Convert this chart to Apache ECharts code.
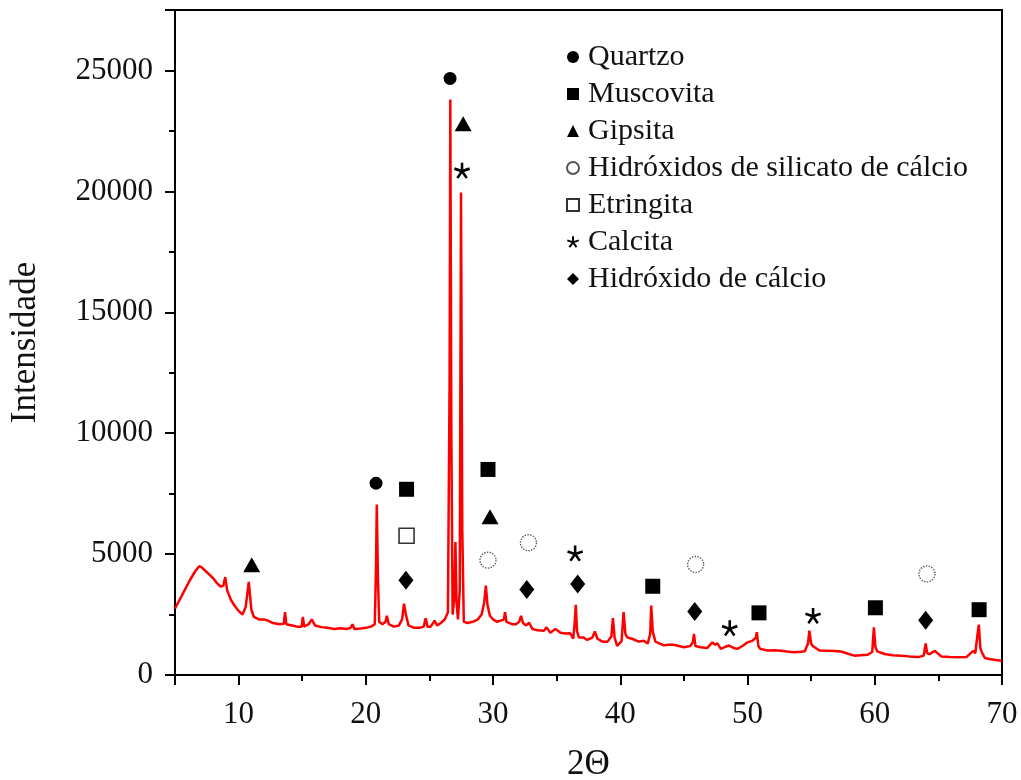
<!DOCTYPE html>
<html><head><meta charset="utf-8">
<script src="https://cdn.jsdelivr.net/npm/echarts@6/dist/echarts.min.js"></script>
<style>html,body{margin:0;padding:0;background:#fff}#c{width:1021px;height:780px}</style>
</head><body><div id="c"></div>
<script>
// XRD pattern: 2θ positions and intensities
const twoTheta = [
5.0,5.4,5.8,6.2,6.6,6.9,7.1,7.4,7.7,8.0,8.3,8.6,8.8,8.95,9.1,9.4,9.7,10.0,10.3,10.55,10.8,11.0,11.2,11.6,12.0,12.3,12.7,13.2,13.55,13.65,13.75,14.2,14.6,14.95,15.05,15.15,15.5,15.75,16.0,16.5,17.0,17.5,18.0,18.5,18.8,18.95,19.1,19.6,20.0,20.4,20.7,20.8,20.86,20.95,21.05,21.3,21.55,21.65,21.8,22.2,22.6,22.85,23.0,23.15,23.35,23.8,24.2,24.55,24.7,24.85,25.1,25.4,25.6,25.9,26.2,26.45,26.58,26.64,26.72,26.82,26.95,27.04,27.13,27.24,27.38,27.48,27.58,27.7,28.0,28.4,28.8,29.1,29.3,29.43,29.56,29.75,30.0,30.3,30.6,30.85,30.94,31.05,31.5,31.8,32.05,32.2,32.35,32.6,32.83,33.1,33.5,34.0,34.2,34.5,34.9,35.3,35.7,36.05,36.3,36.42,36.5,36.6,36.75,37.1,37.4,37.8,38.0,38.2,38.6,39.0,39.3,39.42,39.55,39.75,40.1,40.26,40.4,40.55,40.92,41.45,41.84,42.15,42.35,42.43,42.55,42.76,43.1,43.42,43.8,44.2,44.6,45.0,45.5,45.7,45.79,45.9,46.3,46.84,47.23,47.45,47.63,47.9,48.2,48.54,48.9,49.2,49.6,50.0,50.4,50.65,50.73,50.85,51.0,51.57,52.1,52.62,53.1,53.67,54.2,54.5,54.75,54.86,55.0,55.12,55.65,56.3,56.8,57.35,57.9,58.4,58.9,59.45,59.8,59.93,60.05,60.2,60.77,61.4,62.08,62.7,63.4,63.85,64.0,64.12,64.3,64.72,65.24,65.9,66.5,67.2,67.74,67.9,68.08,68.18,68.3,68.45,68.66,69.0,69.5,69.98
];
const intensity = [
2750,3150,3550,3950,4300,4500,4450,4300,4150,4000,3800,3650,3700,4050,3500,3100,2850,2650,2500,2800,3850,2700,2400,2300,2300,2250,2150,2100,2120,2600,2100,2050,2000,2000,2400,2000,2100,2300,2050,1980,1950,1900,1930,1900,1950,2100,1900,1920,1950,2000,2100,4500,7050,4000,2200,2100,2200,2450,2100,2000,2050,2300,2950,2500,2050,1950,1950,2000,2350,2000,2000,2250,2050,2150,2300,2600,12000,23800,10000,2500,3200,5500,3000,2300,3500,19950,6000,2200,2150,2200,2300,2500,3000,3700,2900,2450,2300,2200,2250,2300,2600,2200,2100,2100,2200,2450,2150,2050,2160,1900,1850,1830,1970,1750,1900,1750,1720,1730,1500,2200,2900,1800,1550,1550,1450,1550,1800,1500,1380,1380,1600,2350,1550,1200,1400,2600,1700,1550,1500,1380,1420,1300,1700,2870,1800,1380,1300,1230,1250,1250,1200,1150,1200,1350,1700,1200,1150,1120,1350,1250,1310,1080,1150,1220,1120,1080,1200,1350,1420,1550,1770,1200,1080,1010,1020,1000,970,940,960,980,1300,1830,1300,1200,1010,1000,990,970,880,800,820,840,950,1970,1150,980,870,820,800,770,740,800,1310,900,860,1000,760,740,730,740,1000,900,1700,2080,1100,900,700,660,620,590
];

// Phase identification markers [2θ, intensity]
const phaseNames = ['Quartzo','Muscovita','Gipsita','Hidróxidos de silicato de cálcio','Etringita','Calcita','Hidróxido de cálcio'];
const quartzo = [[20.8,7930],[26.62,24670]];
const muscovita = [[23.2,7680],[29.6,8500],[42.55,3670],[50.9,2570],[60.05,2780],[68.2,2700]];
const gipsita = [[11.03,4560],[27.65,22800],[29.76,6540]];
const hidroxidosSilicato = [[29.6,4750],[32.78,5470],[45.92,4570],[64.1,4180]];
const etringita = [[23.2,5760]];
const calcita = [[27.56,20850],[36.45,5020],[48.6,1930],[55.15,2440]];
const hidroxidoCalcio = [[23.15,3920],[32.65,3540],[36.65,3760],[45.85,2630],[64.0,2260]];

const serif = 'Liberation Serif';
const asterisk = 'path://M8.4 0L11.6 0L11.6 7.8L19.02 5.39L20 8.43L12.59 10.84L17.17 17.15L14.58 19.03L10 12.72L5.42 19.03L2.83 17.15L7.41 10.84L0 8.43L0.98 5.39L8.4 7.8Z';

const curve = twoTheta.map((t, i) => [t, intensity[i]]);

function scatter(name, data, symbol, size, style) {
  return {
    name, type: 'scatter', data, symbol, symbolSize: size, z: 5,
    itemStyle: Object.assign({ color: '#000', opacity: 1 }, style || {}),
    emphasis: { disabled: true }
  };
}

const chart = echarts.init(document.getElementById('c'));
chart.setOption({
  animation: false,
  backgroundColor: '#fff',
  textStyle: { fontFamily: serif },
  grid: { left: 175, right: 19, top: 10, bottom: 105, show: true, borderColor: '#000', borderWidth: 2,
          backgroundColor: 'transparent', containLabel: false, outerBoundsMode: 'none' },
  legend: {
    orient: 'vertical', left: 561, top: 37,
    itemWidth: 12, itemHeight: 12, itemGap: 7,
    selectedMode: false,
    textStyle: { fontFamily: serif, fontSize: 30, color: '#111', lineHeight: 30, padding: [0, 0, 0, 4] },
    data: phaseNames
  },
  xAxis: {
    type: 'value', min: 5, max: 70,
    name: '2Θ', nameLocation: 'middle', nameGap: 72,
    nameTextStyle: { fontFamily: serif, fontSize: 35, color: '#111' },
    axisLine: { lineStyle: { color: '#000', width: 2 } },
    axisTick: { show: true, inside: false, length: 10, lineStyle: { color: '#000', width: 2 } },
    minorTick: { show: true, splitNumber: 2, length: 6, lineStyle: { color: '#000', width: 2 } },
    splitLine: { show: false },
    axisLabel: { showMinLabel: false, margin: 24, fontFamily: serif, fontSize: 31, color: '#111', formatter: v => String(v) }
  },
  yAxis: {
    type: 'value', min: 0, max: 27500,
    name: 'Intensidade', nameLocation: 'middle', nameGap: 132,
    nameTextStyle: { fontFamily: serif, fontSize: 35, color: '#111' },
    axisLine: { show: true, lineStyle: { color: '#000', width: 2 } },
    axisTick: { show: true, inside: false, length: 10, lineStyle: { color: '#000', width: 2 } },
    minorTick: { show: true, splitNumber: 2, length: 6, lineStyle: { color: '#000', width: 2 } },
    splitLine: { show: false },
    axisLabel: { showMaxLabel: false, margin: 22, fontFamily: serif, fontSize: 31, color: '#111', formatter: v => String(v) }
  },
  series: [
    { name: 'XRD', type: 'line', data: curve, showSymbol: false, symbol: 'none', z: 2,
      lineStyle: { color: '#ff0000', width: 2.5 }, emphasis: { disabled: true } },
    scatter('Quartzo', quartzo, 'circle', 13),
    scatter('Muscovita', muscovita, 'rect', 15),
    scatter('Gipsita', gipsita, 'triangle', [17, 15]),
    scatter('Hidróxidos de silicato de cálcio', hidroxidosSilicato, 'circle', 16,
      { color: '#fff', borderColor: '#555', borderWidth: 1.4, borderType: 'dotted' }),
    scatter('Etringita', etringita, 'rect', 15,
      { color: '#fff', borderColor: '#333', borderWidth: 1.6 }),
    scatter('Calcita', calcita, asterisk, 16),
    scatter('Hidróxido de cálcio', hidroxidoCalcio, 'diamond', [15, 19])
  ]
});
</script>
</body></html>
